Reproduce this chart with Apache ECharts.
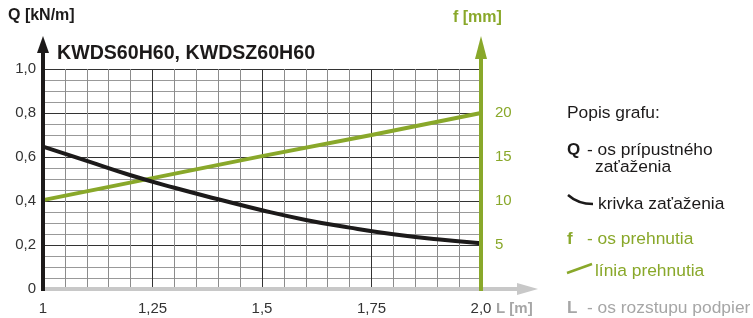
<!DOCTYPE html>
<html>
<head>
<meta charset="utf-8">
<script src="https://cdn.jsdelivr.net/npm/echarts@6/dist/echarts.min.js"></script>
<style>
  html, body { margin: 0; padding: 0; background: #fff; }
  #chart { width: 753px; height: 318px; }
</style>
</head>
<body>
<div id="chart"></div>
<script>
// L [m] spacing of supports
var spans = [1, 1.1, 1.2, 1.3, 1.4, 1.5, 1.6, 1.7, 1.8, 1.9, 2.0];
// Q [kN/m] allowed load
var loads = [0.647, 0.582, 0.517, 0.460, 0.408, 0.358, 0.314, 0.279, 0.249, 0.226, 0.208];
// f [mm] deflection
var deflSpans = [1, 1.25, 1.5, 1.75, 2.0];
var deflections = [10.1, 12.6, 15.1, 17.5, 20];

var GREEN = '#89a82a';
var GRAY = '#a6a6a6';
var FONT = 'Liberation Sans, Arial, sans-serif';
var grid = { left: 43, top: 69, right: 272, bottom: 29 };
var W = 753, H = 318;
var x0 = grid.left, x1 = W - grid.right, yBot = H - grid.bottom;

function comma(v) { return String(v).replace('.', ','); }

var chart = echarts.init(document.getElementById('chart'));

var option = {
    animation: false,
    textStyle: { fontFamily: FONT },
    grid: { left: grid.left, top: grid.top, right: grid.right, bottom: grid.bottom },
    xAxis: {
        type: 'value', min: 1, max: 2, interval: 0.25,
        axisLine: { show: false },
        axisTick: { show: false },
        axisLabel: {
            color: '#333', fontSize: 15, margin: 12,
            formatter: function (v) { return v === 2 ? '2,0' : comma(v); }
        },
        splitLine: { show: true, lineStyle: { color: '#333', width: 1 } },
        minorTick: { show: false, splitNumber: 5 },
        minorSplitLine: { show: true, lineStyle: { color: '#8c8c8c', width: 1 } }
    },
    yAxis: [{
        type: 'value', min: 0, max: 1, interval: 0.2,
        axisLine: { show: false },
        axisTick: { show: false },
        axisLabel: {
            color: '#333', fontSize: 15, margin: 7,
            formatter: function (v) { return v === 0 ? '0' : (v === 1 ? '1,0' : comma(v.toFixed(1))); }
        },
        splitLine: { show: true, lineStyle: { color: '#333', width: 1 } },
        minorTick: { show: false, splitNumber: 4 },
        minorSplitLine: { show: true, lineStyle: { color: '#999', width: 1 } }
    }, {
        type: 'value', min: 0, max: 25, interval: 5,
        position: 'right',
        axisLine: { show: false },
        axisTick: { show: false },
        splitLine: { show: false },
        axisLabel: {
            color: GREEN, fontSize: 15, margin: 14,
            formatter: function (v) { return (v === 0 || v === 25) ? '' : String(v); }
        }
    }],
    series: [{
        type: 'line', name: 'Q',
        data: spans.map(function (l, i) { return [l, loads[i]]; }),
        smooth: true, showSymbol: false,
        lineStyle: { color: '#1c1a1a', width: 4 },
        z: 4
    }, {
        type: 'line', name: 'f', yAxisIndex: 1,
        data: deflSpans.map(function (l, i) { return [l, deflections[i]]; }),
        showSymbol: false,
        lineStyle: { color: GREEN, width: 4 },
        z: 3
    }],
    graphic: [
        // x axis (gray) with arrow
        { type: 'line', z: 10, shape: { x1: x0, y1: yBot, x2: 520, y2: yBot },
          style: { stroke: '#c8c8c8', lineWidth: 4 } },
        { type: 'polygon', z: 10, shape: { points: [[517, yBot - 6], [538, yBot], [517, yBot + 6]] },
          style: { fill: '#c8c8c8' } },
        // right axis (green)
        { type: 'line', z: 11, shape: { x1: x1, y1: yBot + 2, x2: x1, y2: 55 },
          style: { stroke: GREEN, lineWidth: 4 } },
        { type: 'polygon', z: 11, shape: { points: [[x1 - 6, 59], [x1, 36], [x1 + 6, 59]] },
          style: { fill: GREEN } },
        // left axis (black)
        { type: 'line', z: 12, shape: { x1: x0, y1: yBot + 2, x2: x0, y2: 50 },
          style: { stroke: '#1c1a1a', lineWidth: 4 } },
        { type: 'polygon', z: 12, shape: { points: [[x0 - 6, 53], [x0, 36], [x0 + 6, 53]] },
          style: { fill: '#1c1a1a' } },
        // axis titles
        { type: 'text', left: 8, top: 8,
          style: { text: 'Q [kN/m]', font: 'bold 16px ' + FONT, fill: '#1c1a1a' } },
        { type: 'text', left: 453, top: 10,
          style: { text: 'f [mm]', font: 'bold 16px ' + FONT, fill: GREEN } },
        { type: 'text', left: 496, top: 301,
          style: { text: 'L [m]', font: 'bold 15px ' + FONT, fill: GRAY } },
        // chart title
        { type: 'text', left: 57, top: 44,
          style: { text: 'KWDS60H60, KWDSZ60H60', font: 'bold 19.6px ' + FONT, fill: '#1c1a1a' } },
        // legend block
        { type: 'text', left: 567, top: 105,
          style: { text: 'Popis grafu:', font: '17.4px ' + FONT, fill: '#1c1a1a' } },
        { type: 'text', left: 567, top: 142,
          style: { text: 'Q', font: 'bold 17px ' + FONT, fill: '#1c1a1a' } },
        { type: 'text', left: 587, top: 142,
          style: { text: '- os prípustného', font: '17.4px ' + FONT, fill: '#1c1a1a' } },
        { type: 'text', left: 595, top: 159,
          style: { text: 'zaťaženia', font: '17.4px ' + FONT, fill: '#1c1a1a' } },
        { type: 'bezierCurve', shape: { x1: 568, y1: 195, x2: 593, y2: 204, cpx1: 578, cpy1: 204 },
          style: { stroke: '#1c1a1a', lineWidth: 2.5, fill: 'none' } },
        { type: 'text', left: 598, top: 196,
          style: { text: 'krivka zaťaženia', font: '17.4px ' + FONT, fill: '#1c1a1a' } },
        { type: 'text', left: 567, top: 231,
          style: { text: 'f', font: 'bold 17px ' + FONT, fill: GREEN } },
        { type: 'text', left: 587, top: 231,
          style: { text: '- os prehnutia', font: '17.4px ' + FONT, fill: GREEN } },
        { type: 'line', shape: { x1: 567, y1: 273, x2: 592, y2: 264 },
          style: { stroke: GREEN, lineWidth: 2.5 } },
        { type: 'text', left: 595, top: 263,
          style: { text: 'línia prehnutia', font: '17.4px ' + FONT, fill: GREEN } },
        { type: 'text', left: 567, top: 300,
          style: { text: 'L', font: 'bold 17px ' + FONT, fill: GRAY } },
        { type: 'text', left: 587, top: 300,
          style: { text: '- os rozstupu podpier', font: '17.4px ' + FONT, fill: GRAY } }
    ]
};

chart.setOption(option);
</script>
</body>
</html>
